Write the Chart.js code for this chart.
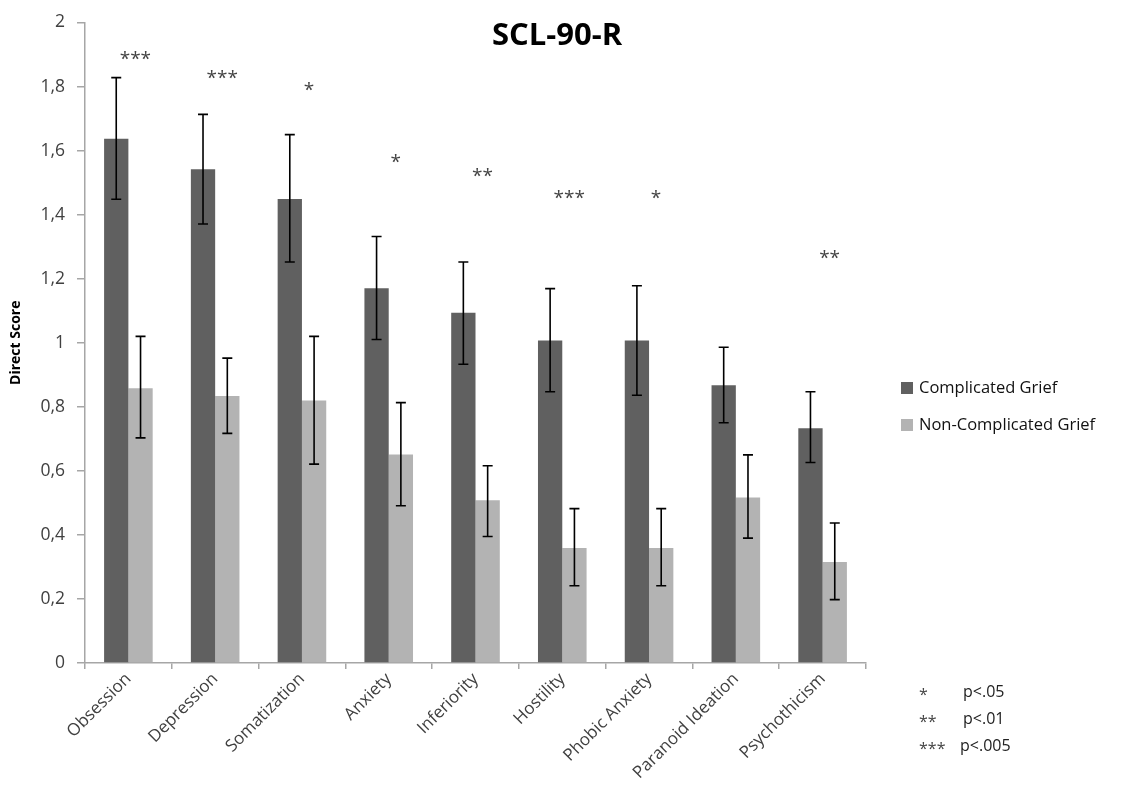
<!DOCTYPE html>
<html>
<head>
<meta charset="utf-8">
<script src="https://cdn.jsdelivr.net/npm/chart.js@4/dist/chart.umd.min.js"></script>
<style>
  html, body { margin: 0; padding: 0; background: #fff; }
  #wrap { width: 1126px; height: 794px; position: relative; }
</style>
</head>
<body>
<div id="wrap"><canvas id="chart"></canvas></div>
<script>
// SCL-90-R: medias por subescala, duelo complicado vs no complicado, con barras de error

const categories = ["Obsession", "Depression", "Somatization", "Anxiety", "Inferiority",
  "Hostility", "Phobic Anxiety", "Paranoid Ideation", "Psychothicism"];

const cgMean = [1.637, 1.542, 1.449, 1.170, 1.094, 1.007, 1.007, 0.867, 0.733];
const cgHigh = [1.828, 1.713, 1.650, 1.332, 1.252, 1.169, 1.178, 0.986, 0.847];
const cgLow  = [1.448, 1.371, 1.252, 1.010, 0.933, 0.847, 0.836, 0.750, 0.626];

const ncgMean = [0.858, 0.834, 0.820, 0.651, 0.508, 0.359, 0.359, 0.517, 0.315];
const ncgHigh = [1.020, 0.952, 1.020, 0.813, 0.616, 0.482, 0.482, 0.650, 0.437];
const ncgLow  = [0.703, 0.717, 0.621, 0.491, 0.395, 0.241, 0.241, 0.390, 0.198];

// asteriscos de significación y su altura (en unidades del eje y)
const sigMarks = ["***", "***", "*", "*", "**", "***", "*", "", "**"];
const sigLevel = [1.899, 1.841, 1.803, 1.577, 1.534, 1.467, 1.467, null, 1.279];

const footLabels = ["*", "**", "***"];
const footTexts = ["p<.05", "p<.01", "p<.005"];

const seriesNames = ["Complicated Grief", "Non-Complicated Grief"];
const DARK = "#606060", LIGHT = "#b3b3b3", TEXT = "#404040";
const FONT = "'Open Sans', sans-serif";

const errors = [[cgLow, cgHigh], [ncgLow, ncgHigh]];

const overlay = {
  id: "overlay",
  afterDatasetsDraw(chart) {
    const { ctx, chartArea, scales } = chart;
    const y = scales.y, x = scales.x;
    ctx.save();

    // barras de error
    ctx.strokeStyle = "#000";
    ctx.lineWidth = 1.6;
    chart.data.datasets.forEach((ds, di) => {
      const meta = chart.getDatasetMeta(di);
      meta.data.forEach((bar, i) => {
        const yt = y.getPixelForValue(errors[di][1][i]);
        const yb = y.getPixelForValue(errors[di][0][i]);
        ctx.beginPath();
        ctx.moveTo(bar.x, yt); ctx.lineTo(bar.x, yb);
        ctx.moveTo(bar.x - 5, yt); ctx.lineTo(bar.x + 5, yt);
        ctx.moveTo(bar.x - 5, yb); ctx.lineTo(bar.x + 5, yb);
        ctx.stroke();
      });
    });

    // asteriscos
    ctx.fillStyle = "#444";
    ctx.font = `19px ${FONT}`;
    ctx.textAlign = "center";
    ctx.textBaseline = "middle";
    sigMarks.forEach((m, i) => {
      if (!m) return;
      ctx.fillText(m, x.getPixelForValue(i) + 7, y.getPixelForValue(sigLevel[i]) + 5);
    });

    // título
    ctx.fillStyle = "#000";
    ctx.font = `bold 31px ${FONT}`;
    ctx.fillText("SCL-90-R", chart.width / 2 - 6, 36);

    // leyenda
    const lx = chartArea.right + 35;
    const colors = [DARK, LIGHT];
    ctx.font = `16.5px ${FONT}`;
    ctx.textAlign = "left";
    seriesNames.forEach((name, i) => {
      const ly = 388 + i * 37;
      ctx.fillStyle = colors[i];
      ctx.fillRect(lx, ly - 6, 12, 12);
      ctx.fillStyle = "#111";
      ctx.fillText(name, lx + 18, ly);
    });

    // nota de significación
    ctx.font = `16px ${FONT}`;
    footLabels.forEach((s, i) => {
      const fy = chartArea.bottom + 29 + i * 27;
      ctx.fillStyle = "#444";
      ctx.fillText(s, chartArea.right + 53, fy + 3);
      ctx.fillStyle = "#222";
      ctx.fillText(footTexts[i], chartArea.right + (i === 2 ? 94 : 97), fy);
    });
    ctx.restore();
  }
};

new Chart(document.getElementById("chart"), {
  type: "bar",
  data: {
    labels: categories,
    datasets: [
      { label: seriesNames[0], data: cgMean, backgroundColor: DARK },
      { label: seriesNames[1], data: ncgMean, backgroundColor: LIGHT },
    ],
  },
  options: {
    responsive: true,
    maintainAspectRatio: false,
    animation: false,
    datasets: { bar: { categoryPercentage: 0.56, barPercentage: 1.0 } },
    layout: { padding: { top: 18, right: 260, left: 0, bottom: 0 } },
    plugins: { legend: { display: false }, tooltip: { enabled: false } },
    scales: {
      x: {
        afterFit: s => { s.height = 131; },
        border: { color: "#a6a6a6", width: 1.5 },
        grid: { drawOnChartArea: false, color: "#a6a6a6", tickLength: 6, lineWidth: 1.5 },
        ticks: { color: TEXT, font: { family: FONT, size: 17 }, minRotation: 45, maxRotation: 45, padding: 0 },
      },
      y: {
        min: 0, max: 2,
        afterFit: s => { s.width = 85; },
        border: { color: "#a6a6a6", width: 1.5 },
        grid: { drawOnChartArea: false, color: "#a6a6a6", tickLength: 8, lineWidth: 1.5 },
        ticks: {
          stepSize: 0.2, color: TEXT, padding: 12,
          font: { family: FONT, size: 17.5 },
          callback: v => String(Math.round(v * 10) / 10).replace(".", ","),
        },
        title: { display: true, text: "Direct Score", color: "#000", font: { family: FONT, size: 14, weight: "bold" }, padding: { top: 8, bottom: 0 } },
      },
    },
  },
  plugins: [overlay],
});
</script>
</body>
</html>
